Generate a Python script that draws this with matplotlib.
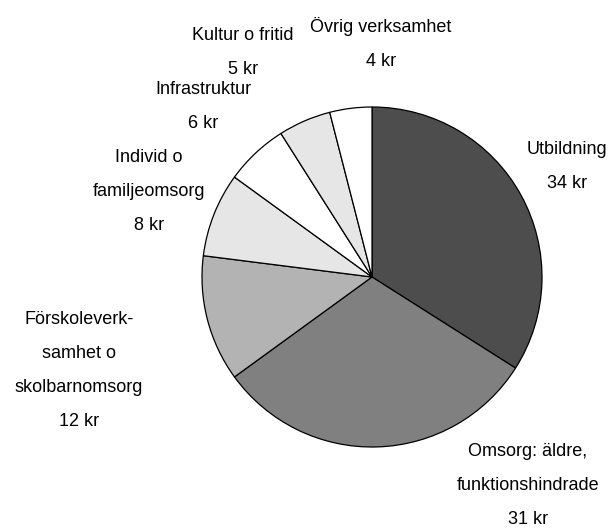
import matplotlib
matplotlib.use("Agg")
import matplotlib.pyplot as plt
from matplotlib import font_manager

categories = ["Utbildning", "Omsorg: äldre,\nfunktionshindrade",
              "Förskoleverk-\nsamhet o\nskolbarnomsorg",
              "Individ o\nfamiljeomsorg", "Infrastruktur",
              "Kultur o fritid", "Övrig verksamhet"]
values = [34, 31, 12, 8, 6, 5, 4]
unit = "kr"

colors = ["#4d4d4d", "#808080", "#b3b3b3", "#e6e6e6", "#ffffff", "#e6e6e6", "#ffffff"]
# label centre (x, top y) in pixel units
label_pos = [(567, 150), (528, 452), (79, 319), (149, 157), (203, 89), (243, 35), (381, 27)]

names = {f.name for f in font_manager.fontManager.ttflist}
family = "Liberation Sans Narrow" if "Liberation Sans Narrow" in names else "Liberation Sans"

fig = plt.figure(figsize=(6.08, 5.28), dpi=100)
ax = fig.add_axes([0, 0, 1, 1])
ax.set_xlim(0, 608)
ax.set_ylim(0, 528)
ax.set_aspect("equal")
ax.axis("off")

ax.pie(values, colors=colors, startangle=90, counterclock=False,
       center=(372, 528 - 277), radius=170,
       wedgeprops=dict(edgecolor="black", linewidth=0.9))

for name, v, (x, y) in zip(categories, values, label_pos):
    lines = name.split("\n") + [f"{v} {unit}"]
    for i, line in enumerate(lines):
        ax.text(x, 528 - (y + i * 34), line, fontsize=13, family=family,
                ha="center", va="center", color="black")

ax.set_xlim(0, 608)
ax.set_ylim(0, 528)
fig.savefig("out.png", dpi=100)
